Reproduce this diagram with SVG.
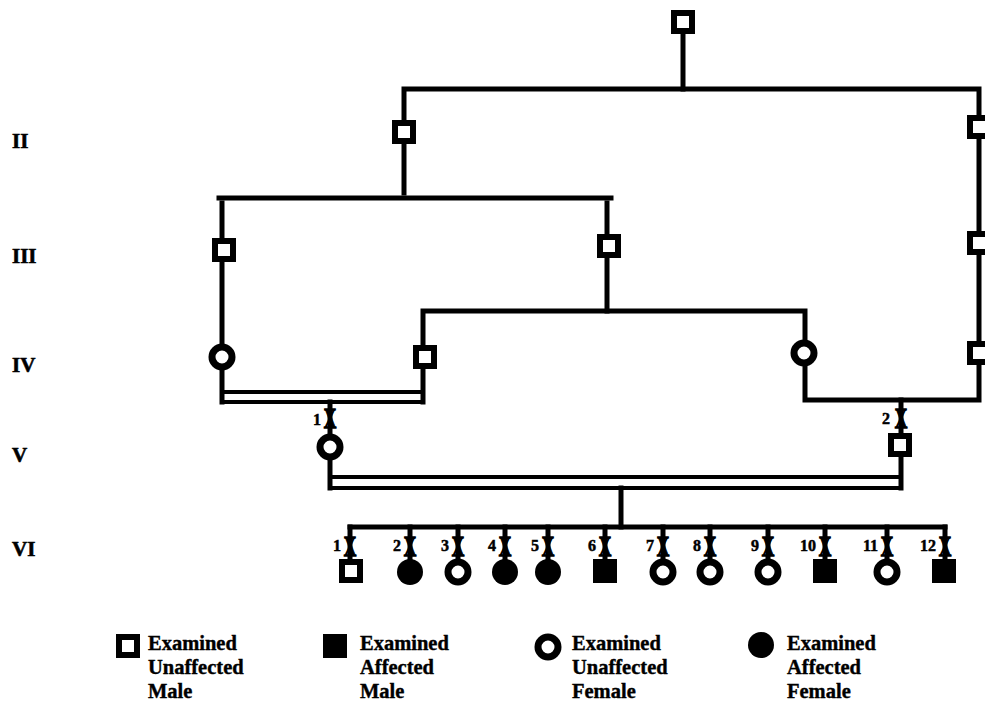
<svg xmlns="http://www.w3.org/2000/svg" xmlns:xlink="http://www.w3.org/1999/xlink" width="985" height="705" viewBox="0 0 985 705">
<style>
.ln{stroke:#000;stroke-width:5;fill:none;stroke-linecap:square;stroke-linejoin:miter}
.dl{stroke:#000;stroke-width:4;fill:none}
.su{fill:#fff;stroke:#000;stroke-width:6}
.sa{fill:#000}
.cu{fill:#fff;stroke:#000;stroke-width:7}
.ca{fill:#000}
text{font-family:"Liberation Serif","Times New Roman",serif;font-weight:bold;fill:#000}
.gen{font-size:21px;stroke:#000;stroke-width:0.6}
.num{font-size:16px;text-anchor:end;stroke:#000;stroke-width:0.5}
.xm{font-size:29px;text-anchor:middle;stroke:#000;stroke-width:1.4}
.lg{font-size:20.5px;stroke:#000;stroke-width:0.4}
</style>
<defs>
<rect id="mU" class="su" x="-9" y="-9" width="18" height="18"/>
<rect id="mA" class="sa" x="-12" y="-12" width="24" height="24"/>
<circle id="fU" class="cu" r="10"/>
<circle id="fA" class="ca" r="13"/>
</defs>

<g id="gen-labels">
<text class="gen" x="12" y="148">II</text>
<text class="gen" x="12" y="263">III</text>
<text class="gen" x="12" y="372">IV</text>
<text class="gen" x="12" y="462">V</text>
<text class="gen" x="12" y="556">VI</text>
</g>

<g id="connectors">
<path class="ln" d="M683,30 V89"/>
<path class="ln" d="M404,193 V89 H979 V400 H805 V311 H423 V402"/>
<path class="ln" d="M219,198 H611"/>
<path class="ln" d="M222,203 V402"/>
<path class="ln" d="M607,203 V311"/>
<path class="dl" d="M222,392 H423 M222,402 H425"/>
<path class="ln" d="M330,402 V488"/>
<path class="ln" d="M901,400 V488"/>
<path class="dl" d="M330,477 H901 M330,488 H903"/>
<path class="ln" d="M621,488 V527"/>
<path class="ln" d="M350,527 H945"/>
<path class="ln" d="M350,527 V571 M410,527 V571 M458,527 V571 M505,527 V571 M548,527 V571 M605,527 V571 M663,527 V571 M710,527 V571 M768,527 V571 M825,527 V571 M887,527 V571 M945,527 V571"/>
</g>

<g id="marks">
<text class="xm" transform="translate(330,428) scale(0.6,1)">X</text>
<text class="num" x="321" y="425">1</text>
<text class="xm" transform="translate(901,428) scale(0.6,1)">X</text>
<text class="num" x="890" y="424">2</text>
<text class="xm" transform="translate(350,556) scale(0.6,1)">X</text><text class="num" x="341" y="551">1</text>
<text class="xm" transform="translate(410,556) scale(0.6,1)">X</text><text class="num" x="401" y="551">2</text>
<text class="xm" transform="translate(458,556) scale(0.6,1)">X</text><text class="num" x="449" y="551">3</text>
<text class="xm" transform="translate(505,556) scale(0.6,1)">X</text><text class="num" x="496" y="551">4</text>
<text class="xm" transform="translate(548,556) scale(0.6,1)">X</text><text class="num" x="539" y="551">5</text>
<text class="xm" transform="translate(605,556) scale(0.6,1)">X</text><text class="num" x="596" y="551">6</text>
<text class="xm" transform="translate(663,556) scale(0.6,1)">X</text><text class="num" x="654" y="551">7</text>
<text class="xm" transform="translate(710,556) scale(0.6,1)">X</text><text class="num" x="701" y="551">8</text>
<text class="xm" transform="translate(768,556) scale(0.6,1)">X</text><text class="num" x="759" y="551">9</text>
<text class="xm" transform="translate(825,556) scale(0.6,1)">X</text><text class="num" x="816" y="551">10</text>
<text class="xm" transform="translate(887,556) scale(0.6,1)">X</text><text class="num" x="878" y="551">11</text>
<text class="xm" transform="translate(945,556) scale(0.6,1)">X</text><text class="num" x="936" y="551">12</text>
</g>

<g id="I-1"><use xlink:href="#mU" x="683" y="22"/></g>
<g id="II-1"><use xlink:href="#mU" x="404" y="132"/></g>
<g id="II-2"><use xlink:href="#mU" x="979" y="127"/></g>
<g id="III-1"><use xlink:href="#mU" x="224" y="250"/></g>
<g id="III-2"><use xlink:href="#mU" x="609" y="246"/></g>
<g id="III-3"><use xlink:href="#mU" x="979" y="243"/></g>
<g id="IV-1"><use xlink:href="#fU" x="222" y="357"/></g>
<g id="IV-2"><use xlink:href="#mU" x="425" y="357"/></g>
<g id="IV-3"><use xlink:href="#fU" x="804" y="353"/></g>
<g id="IV-4"><use xlink:href="#mU" x="979" y="353"/></g>
<g id="V-1"><use xlink:href="#fU" x="330" y="447"/></g>
<g id="V-2"><use xlink:href="#mU" x="900" y="445"/></g>
<g id="VI-1"><use xlink:href="#mU" x="351" y="571"/></g>
<g id="VI-2"><use xlink:href="#fA" x="410" y="572"/></g>
<g id="VI-3"><use xlink:href="#fU" x="458" y="572"/></g>
<g id="VI-4"><use xlink:href="#fA" x="505" y="572"/></g>
<g id="VI-5"><use xlink:href="#fA" x="548" y="572"/></g>
<g id="VI-6"><use xlink:href="#mA" x="605" y="571"/></g>
<g id="VI-7"><use xlink:href="#fU" x="663" y="572"/></g>
<g id="VI-8"><use xlink:href="#fU" x="710" y="572"/></g>
<g id="VI-9"><use xlink:href="#fU" x="768" y="572"/></g>
<g id="VI-10"><use xlink:href="#mA" x="825" y="571"/></g>
<g id="VI-11"><use xlink:href="#fU" x="887" y="572"/></g>
<g id="VI-12"><use xlink:href="#mA" x="944" y="571"/></g>

<g id="legend">
<use xlink:href="#mU" x="128" y="646"/>
<text class="lg" x="148" y="650">Examined</text>
<text class="lg" x="148" y="674">Unaffected</text>
<text class="lg" x="148" y="698">Male</text>
<use xlink:href="#mA" x="335" y="646"/>
<text class="lg" x="360" y="650">Examined</text>
<text class="lg" x="360" y="674">Affected</text>
<text class="lg" x="360" y="698">Male</text>
<use xlink:href="#fU" x="548" y="647"/>
<text class="lg" x="572" y="650">Examined</text>
<text class="lg" x="572" y="674">Unaffected</text>
<text class="lg" x="572" y="698">Female</text>
<use xlink:href="#fA" x="761" y="645"/>
<text class="lg" x="787" y="650">Examined</text>
<text class="lg" x="787" y="674">Affected</text>
<text class="lg" x="787" y="698">Female</text>
</g>
</svg>
